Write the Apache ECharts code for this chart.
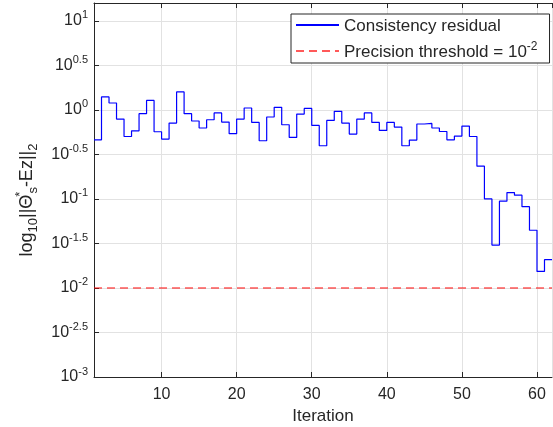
<!DOCTYPE html>
<html>
<head>
<meta charset="utf-8">
<script src="https://cdn.jsdelivr.net/npm/echarts@6/dist/echarts.min.js"></script>
<style>
  html, body { margin: 0; padding: 0; background: #fff; }
  #chart { width: 553px; height: 427px; }
</style>
</head>
<body>
<div id="chart"></div>
<script>
// Iteration index of each recorded residual
const iterations = [
  1, 2, 3, 4, 5, 6, 7, 8, 9, 10,
  11, 12, 13, 14, 15, 16, 17, 18, 19, 20,
  21, 22, 23, 24, 25, 26, 27, 28, 29, 30,
  31, 32, 33, 34, 35, 36, 37, 38, 39, 40,
  41, 42, 43, 44, 45, 46, 47, 48, 49, 50,
  51, 52, 53, 54, 55, 56, 57, 58, 59, 60,
  61, 62
];

// log10 of the consistency residual ||Θ*_s - Ez||_2 per iteration
const logResidual = [
  -0.336, 0.145, 0.077, -0.103, -0.299, -0.235, -0.043, 0.106, -0.246, -0.328,
  -0.148, 0.201, -0.043, -0.125, -0.204, -0.111, -0.035, -0.137, -0.268, -0.103,
  0.021, -0.141, -0.347, -0.080, 0.028, -0.167, -0.310, -0.047, 0.016, -0.175,
  -0.403, -0.119, -0.017, -0.148, -0.272, -0.103, -0.035, -0.141, -0.231, -0.141,
  -0.193, -0.403, -0.339, -0.159, -0.152, -0.204, -0.243, -0.336, -0.294, -0.182,
  -0.299, -0.632, -1.000, -1.518, -1.026, -0.929, -0.958, -1.087, -1.352, -1.814,
  -1.683, -1.683
];

// Precision threshold exponent (threshold = 10^-2)
const thresholdExponent = -2;

const xRange = [1, 62];
const yRange = [-3, 1.2];
const yStep = 0.5;

const seriesNames = ['Consistency residual', 'Precision threshold = 10^-2'];

const ink = '#262626';
const gridInk = '#e2e2e2';
const font = 'Liberation Sans, Arial, sans-serif';

function expLabel(v) {
  const e = Math.round(v * 10) / 10;
  return '{b|10}{s|' + (e === 0 ? '0' : String(e)) + '}';
}

const chart = echarts.init(document.getElementById('chart'), null, { renderer: 'canvas' });

const stepData = iterations.map((x, i) => [x, logResidual[i]]);
const thresholdData = [[xRange[0], thresholdExponent], [xRange[1], thresholdExponent]];

chart.setOption({
  animation: false,
  textStyle: { fontFamily: font, color: ink },
  grid: { left: 94, top: 3, right: 1, bottom: 50, containLabel: false, outerBoundsMode: 'none' },
  legend: {
    orient: 'vertical',
    left: 291,
    top: 14,
    itemWidth: 43,
    itemHeight: 16,
    itemGap: 6,
    padding: [4, 12, 2, 4],
    borderColor: ink,
    borderWidth: 1,
    borderRadius: 0,
    backgroundColor: '#fff',
    itemStyle: { opacity: 0 },
    data: seriesNames,
    formatter: function (name) {
      if (name === seriesNames[1]) {
        return '{t|Precision threshold = 10}{p|-2}';
      }
      return '{t|' + name + '}';
    },
    textStyle: {
      fontSize: 17,
      color: ink,
      rich: {
        t: { fontSize: 17, color: ink, lineHeight: 20, verticalAlign: 'bottom' },
        p: { fontSize: 12, color: ink, lineHeight: 12, verticalAlign: 'top' }
      }
    }
  },
  graphic: [
    {
      // rotated y-axis title with sub/superscripts
      type: 'text',
      x: 27,
      y: 200,
      rotation: Math.PI / 2,
      style: {
        text: '{n|log}{sb|10}{n|||Θ}{sp|*}{sb|s}{n|-Ez||}{sb|2}',
        align: 'center',
        verticalAlign: 'middle',
        rich: {
          n: { fontSize: 18, fill: ink, lineHeight: 26, verticalAlign: 'middle', fontFamily: font },
          sb: { fontSize: 13, fill: ink, lineHeight: 12, verticalAlign: 'bottom', fontFamily: font },
          sp: { fontSize: 13, fill: ink, lineHeight: 12, verticalAlign: 'top', width: 1, fontFamily: font }
        }
      }
    }
  ],
  xAxis: [
    {
      type: 'value',
      position: 'bottom',
      min: xRange[0],
      max: xRange[1],
      name: 'Iteration',
      nameLocation: 'middle',
      nameGap: 28,
      nameTextStyle: { fontSize: 17, color: ink },
      axisLine: { show: true, onZero: false, lineStyle: { color: ink, width: 1 } },
      axisTick: { show: true, inside: true, length: 5, lineStyle: { color: ink } },
      axisLabel: { fontSize: 16, color: ink, margin: 10, showMinLabel: false, showMaxLabel: false },
      splitLine: { show: true, lineStyle: { color: gridInk, width: 1 } }
    },
    {
      type: 'value',
      position: 'top',
      min: xRange[0],
      max: xRange[1],
      axisLine: { show: true, onZero: false, lineStyle: { color: ink, width: 1 } },
      axisTick: { show: true, inside: true, length: 5, lineStyle: { color: ink } },
      axisLabel: { show: false },
      splitLine: { show: false }
    }
  ],
  yAxis: {
    type: 'value',
    min: yRange[0],
    max: yRange[1],
    interval: yStep,
    axisLine: { show: true, onZero: false, lineStyle: { color: ink, width: 1 } },
    axisTick: { show: true, inside: true, length: 5, lineStyle: { color: ink } },
    axisLabel: {
      margin: 6,
      showMaxLabel: false,
      formatter: expLabel,
      rich: {
        b: { fontSize: 16, color: ink, lineHeight: 22, verticalAlign: 'middle' },
        s: { fontSize: 11, color: ink, lineHeight: 11, verticalAlign: 'top' }
      }
    },
    splitLine: { show: true, lineStyle: { color: gridInk, width: 1 } }
  },
  series: [
    {
      name: seriesNames[0],
      type: 'line',
      step: 'end',
      data: stepData,
      symbol: 'none',
      lineStyle: { color: '#0000ff', width: 1.2 },
      itemStyle: { color: '#0000ff' },
      z: 3
    },
    {
      name: seriesNames[1],
      type: 'line',
      data: thresholdData,
      symbol: 'none',
      lineStyle: { color: 'rgba(255,0,0,0.65)', width: 1.5, type: [8, 5] },
      itemStyle: { color: 'rgba(255,0,0,0.65)' },
      z: 2
    }
  ]
});
</script>
</body>
</html>
